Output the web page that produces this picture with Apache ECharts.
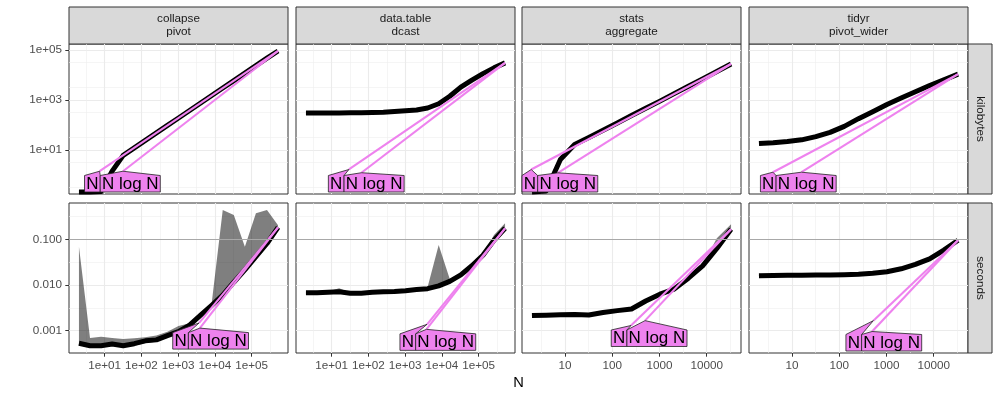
<!DOCTYPE html>
<html><head><meta charset="utf-8">
<script src="https://cdn.jsdelivr.net/npm/echarts@6/dist/echarts.min.js"></script>
<style>html,body{margin:0;padding:0;background:#fff}#c{width:1000px;height:400px}</style>
</head><body><div id="c"></div>
<script>
// ---------------- data ----------------
const packages = ['collapse\npivot', 'data.table\ndcast', 'stats\naggregate', 'tidyr\npivot_wider'];
const units = ['kilobytes', 'seconds'];
const refNames = ['N', 'N log N'];
const axisTitle = 'N';

const N_large = [2,4,8,16,32,64,128,256,512,1024,2048,4096,8192,16384,32768,65536,131072,262144,524288];
const N_small = [2,4,8,16,32,64,128,256,512,1024,2048,4096,8192,16384,32768];

// kilobytes (median)
const kb_collapse  = [0.20,0.20,0.21,1.4,6.0,12,24,48,96,190,380,760,1510,3020,6030,12000,24000,48000,93000];
const kb_datatable = [302,302,302,302,305,309,316,324,347,372,398,479,708,1413,3311,6310,11480,19500,30900];
const kb_stats     = [0.20,0.22,4.1,16.3,31,61,120,237,465,900,1800,3550,7000,14000,28000];
const kb_tidyr     = [17.9,19.1,21.4,25.1,33.9,50.1,87.1,178,339,661,1202,2138,3802,6457,10965];

// seconds (median, min, max)
const sec_collapse_med = [0.00053,0.00047,0.00047,0.00051,0.00047,0.00052,0.00060,0.00063,0.00078,0.00095,0.00133,0.0022,0.0036,0.0060,0.0115,0.0214,0.0417,0.081,0.182];
const sec_collapse_min = [0.00048,0.00043,0.00043,0.00046,0.00043,0.00047,0.00054,0.00057,0.00070,0.00086,0.0012,0.0020,0.0033,0.0055,0.0105,0.0196,0.038,0.074,0.168];
const sec_collapse_max = [0.069,0.00069,0.00074,0.00069,0.00066,0.00068,0.00072,0.00079,0.00095,0.00126,0.00145,0.0025,0.0040,0.436,0.34,0.069,0.372,0.436,0.204];

const sec_datatable_med = [0.00676,0.00676,0.00692,0.00708,0.00661,0.00661,0.00692,0.00708,0.00724,0.0075,0.00794,0.0083,0.00955,0.0120,0.0166,0.0263,0.0447,0.0955,0.174];
const sec_datatable_min = [0.0064,0.0064,0.0066,0.0067,0.0063,0.0063,0.0066,0.0067,0.0069,0.0072,0.0076,0.0079,0.0091,0.0114,0.0158,0.0250,0.0425,0.091,0.166];
const sec_datatable_max = [0.0070,0.0071,0.0072,0.0085,0.0068,0.0068,0.0071,0.0073,0.0074,0.0077,0.0081,0.0090,0.075,0.0135,0.0172,0.0272,0.046,0.124,0.224];

const sec_stats_med = [0.00214,0.00219,0.00224,0.00226,0.00221,0.00251,0.00275,0.00299,0.00447,0.00631,0.00813,0.0141,0.0263,0.0631,0.166];
const sec_stats_min = [0.00205,0.0021,0.00215,0.00217,0.00212,0.0024,0.00265,0.00288,0.0043,0.0061,0.0078,0.0136,0.0253,0.0605,0.158];
const sec_stats_max = [0.0022,0.0023,0.0024,0.0025,0.0023,0.0026,0.0029,0.0031,0.0046,0.0065,0.0084,0.0146,0.0275,0.105,0.214];

const sec_tidyr_med = [0.01596,0.0162,0.0164,0.0164,0.0166,0.0166,0.0168,0.0172,0.0180,0.0195,0.0226,0.0282,0.0372,0.0582,0.0955];
const sec_tidyr_min = [0.0155,0.0157,0.0159,0.0159,0.0161,0.0161,0.0163,0.0167,0.0175,0.0189,0.0219,0.0274,0.0361,0.0565,0.0927];
const sec_tidyr_max = [0.0165,0.0167,0.0169,0.0169,0.0171,0.0171,0.0173,0.0177,0.0185,0.0201,0.0233,0.0290,0.0383,0.0600,0.0985];

// reference (asymptotic) lines: [[N_low, value_low], [N_high, value_high]]
const ref_kb_collapse_N      = [[7.3, 1.38], [524288, 93000]];
const ref_kb_collapse_NlogN  = [[31.6, 1.38], [524288, 93000]];
const ref_kb_datatable_N     = [[29.5, 1.62], [524288, 30900]];
const ref_kb_datatable_NlogN = [[64.6, 1.2], [524288, 30900]];
const ref_kb_stats_N         = [[1.93, 1.62], [32768, 28000]];
const ref_kb_stats_NlogN     = [[7.1, 1.19], [32768, 28000]];
const ref_kb_tidyr_N         = [[3.95, 1.26], [32768, 10965]];
const ref_kb_tidyr_NlogN     = [[15.9, 1.26], [32768, 10965]];
const ref_sec_collapse_N      = [[3733, 0.00148], [524288, 0.182]];
const ref_sec_collapse_NlogN  = [[3908, 0.00114], [524288, 0.182]];
const ref_sec_datatable_N     = [[3955, 0.00138], [524288, 0.174]];
const ref_sec_datatable_NlogN = [[3800, 0.00107], [524288, 0.174]];
const ref_sec_stats_N         = [[250, 0.0013], [32768, 0.166]];
const ref_sec_stats_NlogN     = [[495, 0.00166], [32768, 0.166]];
const ref_sec_tidyr_N         = [[528, 0.00166], [32768, 0.0955]];
const ref_sec_tidyr_NlogN     = [[496, 0.00096], [32768, 0.0955]];

const secondsLimit = 0.1;

// tick labels
const xTicksLarge = [10, 100, 1000, 10000, 100000];
const xLabelsLarge = ['1e+01', '1e+02', '1e+03', '1e+04', '1e+05'];
const xTicksSmall = [10, 100, 1000, 10000];
const xLabelsSmall = ['10', '100', '1000', '10000'];
const yTicksKB = [10, 1000, 100000];
const yLabelsKB = ['1e+01', '1e+03', '1e+05'];
const yTicksSec = [0.001, 0.01, 0.1];
const yLabelsSec = ['0.001', '0.010', '0.100'];

// ---------------- layout / style ----------------
const FONT = '"Liberation Sans", Arial, Helvetica, sans-serif';
const GRID_LEFT = [69, 296, 522, 749];
const GRID_W = 219;
const ROW_TOP = [44, 203];
const GRID_H = 150;
const STRIP_TOP = 7;
const RIGHT_STRIP_W = 24;
const X_RANGE = [[0.0301, 5.9905], [0.0301, 5.9905], [0.0903, 4.7261], [0.0903, 4.7261]]; // log10 N
const Y_RANGE = [[-0.775, 5.249], [-3.488, -0.206]]; // log10 value
const LABEL_FONT_SIZE = 17, PAD = 1.7, BOX_H = 16.5;
const VIOLET = '#EE82EE';

const LOG = v => Math.log10(v);

const panels = [
  {N: N_large, med: kb_collapse,  refs: [ref_kb_collapse_N, ref_kb_collapse_NlogN]},
  {N: N_large, med: kb_datatable, refs: [ref_kb_datatable_N, ref_kb_datatable_NlogN]},
  {N: N_small, med: kb_stats,     refs: [ref_kb_stats_N, ref_kb_stats_NlogN]},
  {N: N_small, med: kb_tidyr,     refs: [ref_kb_tidyr_N, ref_kb_tidyr_NlogN]},
  {N: N_large, med: sec_collapse_med,  min: sec_collapse_min,  max: sec_collapse_max,  refs: [ref_sec_collapse_N, ref_sec_collapse_NlogN]},
  {N: N_large, med: sec_datatable_med, min: sec_datatable_min, max: sec_datatable_max, refs: [ref_sec_datatable_N, ref_sec_datatable_NlogN]},
  {N: N_small, med: sec_stats_med,     min: sec_stats_min,     max: sec_stats_max,     refs: [ref_sec_stats_N, ref_sec_stats_NlogN]},
  {N: N_small, med: sec_tidyr_med,     min: sec_tidyr_min,     max: sec_tidyr_max,     refs: [ref_sec_tidyr_N, ref_sec_tidyr_NlogN]}
];

const measureCtx = document.createElement('canvas').getContext('2d');
function textWidth(t) {
  measureCtx.font = LABEL_FONT_SIZE + 'px ' + FONT;
  return measureCtx.measureText(t).width;
}

function halfSteps(range) {
  const out = [];
  for (let e = Math.floor(range[0]) - 0.5; e <= range[1]; e += 1) {
    if (e > range[0] && e < range[1]) out.push(e);
  }
  return out;
}

function majorAxis(gi, range, tickVals, labels, show) {
  const ticks = tickVals.map(LOG);
  return {
    type: 'value', gridIndex: gi, min: range[0], max: range[1],
    axisLine: {show: false, onZero: false},
    axisTick: {show: show, customValues: ticks, length: 3.7, lineStyle: {color: '#333333', width: 1}},
    axisLabel: {show: show, customValues: ticks, margin: 7, color: '#4D4D4D', fontSize: 11.7, fontFamily: FONT,
      formatter: function (v) { const i = ticks.findIndex(t => Math.abs(t - v) < 1e-6); return i >= 0 ? labels[i] : ''; }},
    splitLine: {show: true, lineStyle: {color: '#EBEBEB', width: 1.1}},
    minorTick: {show: false}, minorSplitLine: {show: false}
  };
}
function minorAxis(gi, range) {
  const vals = halfSteps(range);
  return {
    type: 'value', gridIndex: gi, min: range[0], max: range[1],
    axisLine: {show: false, onZero: false},
    axisTick: {show: false, customValues: vals},
    axisLabel: {show: false, customValues: vals},
    splitLine: {show: true, lineStyle: {color: '#EFEFEF', width: 0.6}}
  };
}

const grid = [], xAxis = [], yAxis = [], series = [];

panels.forEach(function (p, gi) {
  const row = gi < 4 ? 0 : 1, col = gi % 4;
  grid.push({left: GRID_LEFT[col], top: ROW_TOP[row], width: GRID_W, height: GRID_H,
    show: true, backgroundColor: '#ffffff', borderColor: '#333333', borderWidth: 1,
    containLabel: false, outerBoundsMode: 'none'});
  const big = col < 2;
  xAxis.push(majorAxis(gi, X_RANGE[col], big ? xTicksLarge : xTicksSmall, big ? xLabelsLarge : xLabelsSmall, row === 1));
  xAxis.push(minorAxis(gi, X_RANGE[col]));
  yAxis.push(majorAxis(gi, Y_RANGE[row], row === 0 ? yTicksKB : yTicksSec, row === 0 ? yLabelsKB : yLabelsSec, col === 0));
  yAxis.push(minorAxis(gi, Y_RANGE[row]));
  const xi = 2 * gi, yi = 2 * gi;

  // ribbon (min..max)
  if (p.min) {
    const pts = p.N.map((n, k) => [LOG(n), LOG(p.min[k]), LOG(p.max[k])]);
    series.push({
      type: 'custom', xAxisIndex: xi, yAxisIndex: yi, z: 2, silent: true, clip: true,
      data: pts, encode: {x: 0, y: [1, 2]},
      renderItem: function (params, api) {
        if (params.dataIndex !== 0) return null;
        const upper = pts.map(q => api.coord([q[0], q[2]]));
        const lower = pts.map(q => api.coord([q[0], q[1]])).reverse();
        return {type: 'polygon', shape: {points: upper.concat(lower)}, style: {fill: 'rgba(0,0,0,0.5)'}};
      },
      markLine: {silent: true, symbol: ['none', 'none'], label: {show: false},
        lineStyle: {color: '#a8a8a8', width: 1, type: 'solid'},
        data: [{yAxis: LOG(secondsLimit)}]}
    });
  }
  // median line
  series.push({
    type: 'line', xAxisIndex: xi, yAxisIndex: yi, z: 3, silent: true, symbol: 'none',
    data: p.N.map((n, k) => [LOG(n), LOG(p.med[k])]),
    lineStyle: {color: '#000000', width: 5, cap: 'butt', join: 'round'}
  });
  // reference lines
  p.refs.forEach(function (r) {
    series.push({
      type: 'line', xAxisIndex: xi, yAxisIndex: yi, z: 4, silent: true, symbol: 'none',
      data: r.map(q => [LOG(q[0]), LOG(q[1])]),
      lineStyle: {color: VIOLET, width: 2.1}
    });
  });
  // direct labels (bottom polygons), kept in legend order: N, then N log N
  const tips = p.refs.map(r => [LOG(r[0][0]), LOG(r[0][1])]);
  series.push({
    type: 'custom', xAxisIndex: xi, yAxisIndex: yi, z: 6, silent: true, clip: false,
    data: tips.map((t, j) => [t[0], t[1], j]), encode: {x: 0, y: 1},
    renderItem: function (params, api) {
      const cs = params.coordSys;
      const tp = tips.map(t => api.coord(t));
      const ws = refNames.map(n => textWidth(n) + 2 * PAD);
      let top = Math.max.apply(null, tp.map(q => q[1])) + 4.5;
      top = Math.min(top, cs.y + cs.height - 2 - BOX_H);
      const c = tp.map(q => q[0]);
      for (let it = 0; it < 400; it++) {
        for (let k = 0; k < c.length - 1; k++) {
          const a = k, b = k + 1;
          const need = (ws[a] + ws[b]) / 2 - (c[b] - c[a]);
          if (need > 0) { c[a] -= need / 2; c[b] += need / 2; }
        }
        for (let j = 0; j < c.length; j++) {
          c[j] = Math.max(cs.x + ws[j] / 2, Math.min(cs.x + cs.width - ws[j] / 2, c[j]));
        }
      }
      const j = params.dataIndex;
      const L = c[j] - ws[j] / 2, R = c[j] + ws[j] / 2;
      return {type: 'group', children: [
        {type: 'polygon', shape: {points: [[L, top + BOX_H], [L, top], [tp[j][0], tp[j][1]], [R, top], [R, top + BOX_H]]},
          style: {fill: VIOLET, stroke: '#222222', lineWidth: 0.8}},
        {type: 'text', style: {text: refNames[j], x: c[j], y: top + BOX_H / 2 + 0.5, align: 'center', verticalAlign: 'middle',
          fontSize: LABEL_FONT_SIZE, fontFamily: FONT, fill: '#000000'}}
      ]};
    }
  });
});

// strips and axis title
const graphic = [];
packages.forEach(function (pk, col) {
  graphic.push({type: 'rect', silent: true, shape: {x: GRID_LEFT[col], y: STRIP_TOP, width: GRID_W, height: ROW_TOP[0] - STRIP_TOP},
    style: {fill: '#D9D9D9', stroke: '#333333', lineWidth: 1}});
  graphic.push({type: 'text', silent: true, x: GRID_LEFT[col] + GRID_W / 2, y: (STRIP_TOP + ROW_TOP[0]) / 2,
    style: {text: pk, align: 'center', verticalAlign: 'middle', fontSize: 11.7, lineHeight: 13.4, fontFamily: FONT, fill: '#1A1A1A'}});
});
const rightX = GRID_LEFT[3] + GRID_W;
units.forEach(function (u, row) {
  graphic.push({type: 'rect', silent: true, shape: {x: rightX, y: ROW_TOP[row], width: RIGHT_STRIP_W, height: GRID_H},
    style: {fill: '#D9D9D9', stroke: '#333333', lineWidth: 1}});
  graphic.push({type: 'text', silent: true, x: rightX + RIGHT_STRIP_W / 2, y: ROW_TOP[row] + GRID_H / 2, rotation: -Math.PI / 2,
    style: {text: u, align: 'center', verticalAlign: 'middle', fontSize: 11.7, fontFamily: FONT, fill: '#1A1A1A'}});
});
graphic.push({type: 'text', silent: true, x: (GRID_LEFT[0] + GRID_LEFT[3] + GRID_W) / 2, y: 383,
  style: {text: axisTitle, align: 'center', verticalAlign: 'middle', fontSize: 14.7, fontFamily: FONT, fill: '#000000'}});

const chart = echarts.init(document.getElementById('c'), null, {renderer: 'canvas', width: 1000, height: 400});
chart.setOption({
  animation: false,
  backgroundColor: '#ffffff',
  textStyle: {fontFamily: FONT},
  grid: grid, xAxis: xAxis, yAxis: yAxis, series: series, graphic: graphic
});
</script></body></html>
